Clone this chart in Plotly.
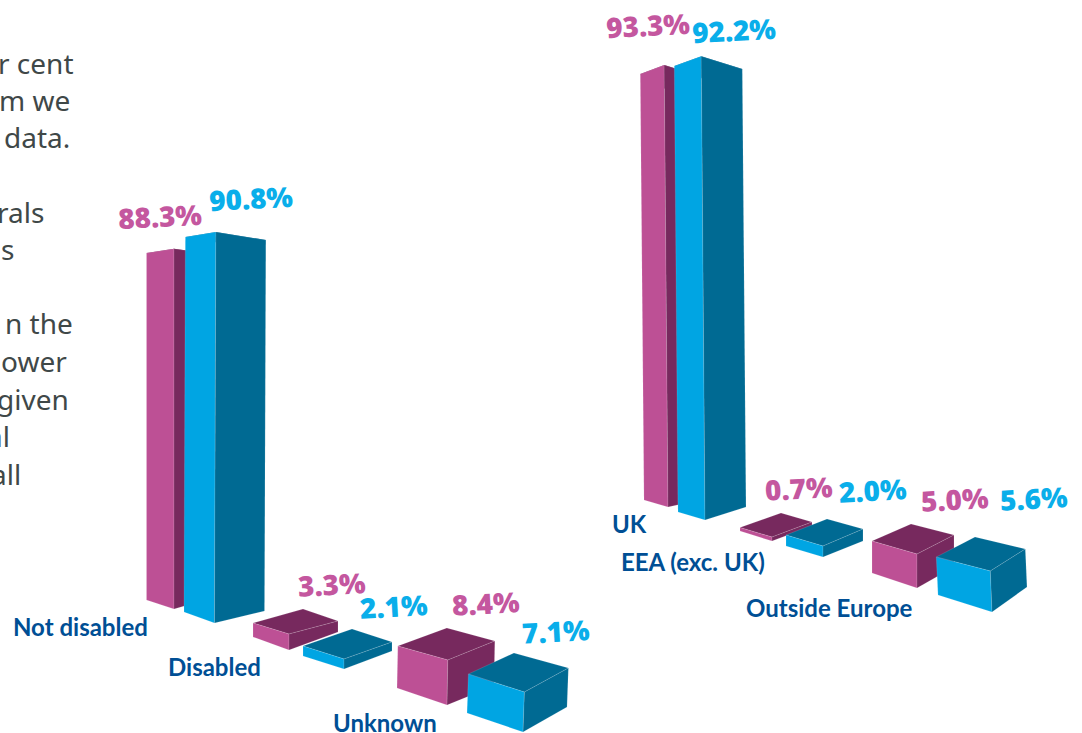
import plotly.graph_objects as go

# ---- data ----
categories = ["Not disabled", "Disabled", "Unknown", "UK", "EEA (exc. UK)", "Outside Europe"]
staff_values = [88.3, 3.3, 8.4, 93.3, 0.7, 5.0]
student_values = [90.8, 2.1, 7.1, 92.2, 2.0, 5.6]
body_fragments = ["r cent", "m we", "data.", "rals", "s", "n the", "ower", "given", "al", "all"]

# ---- colours ----
MAG, MAG_D = "#BD5095", "#77295E"
BLU, BLU_D = "#00A5E3", "#006A93"
MAG_T, BLU_T, NAVY, BODY = "#C4579F", "#0AAEEA", "#004F95", "#3F4848"

# ---- drawing geometry: ground corners (L, F, R, B), px-per-percent rise at each corner, lean per percent ----
geom_mag = [
    ((146.5, 600), (174, 609), (205, 600), (180, 590), (3.93, 4.08, 3.93, 3.7), 0.0),
    ((253, 637), (289, 650), (338, 632), (303, 621), (4.24, 4.85, 3.33, 3.6), 0.0),
    ((397, 688), (447, 705), (494, 686), (446, 670), (5.0, 5.36, 5.36, 5.0), 0.1),
    ((644, 500), (668, 507), (700, 500), (670, 490), (4.566, 4.737, 4.555, 4.29), -0.04),
    ((740, 531), (772, 541), (812, 526), (781, 516.5), (5.0, 5.7, 5.7, 5.0), 0.0),
    ((872, 573), (917, 588), (954, 567), (911, 556), (6.4, 6.8, 6.4, 6.4), 0.0),
]
geom_blu = [
    ((184, 612), (214.5, 623), (264.5, 611), (235, 600), (4.13, 4.306, 4.086, 3.9), 0.015),
    ((303, 656), (344, 669), (392, 651), (352, 638), (4.76, 4.76, 4.3, 4.3), 0.0),
    ((467, 713), (523, 732), (567, 707), (512.5, 691), (5.49, 5.63, 5.49, 5.35), 0.2),
    ((678, 512), (705, 520), (746, 507), (720, 500), (4.837, 5.03, 4.75, 4.5), -0.04),
    ((786, 546), (823, 557), (863, 541), (827, 530), (5.5, 5.5, 6.0, 5.5), 0.0),
    ((938, 595), (992, 612), (1027, 587), (976.7, 575), (6.79, 7.32, 6.79, 6.79), -0.3),
]
label_pos_mag = [(160, 216), (332, 584), (486, 603), (648, 25), (799, 488), (955, 499)]
label_pos_blu = [(251, 198), (394, 606), (556, 631), (734, 30), (873, 490), (1034, 498)]
cat_pos = [(80, 626), (214, 666), (385, 722), (629, 523), (693, 561), (829, 607)]
body_pos = [(76, 63), (72, 100), (72, 137), (46, 212), (16, 249), (75, 323), (69, 361), (71, 399), (12, 436), (23, 474)]

EDGE = dict(color="rgba(255,255,255,0.25)", width=0.5)
fig = go.Figure()


def face(pts, colour):
    xs = [p[0] for p in pts] + [pts[0][0]]
    ys = [p[1] for p in pts] + [pts[0][1]]
    fig.add_trace(go.Scatter(x=xs, y=ys, mode="lines", fill="toself", fillcolor=colour,
                             line=EDGE, hoverinfo="skip", showlegend=False))


def bar(value, g, light, dark):
    L, F, R, B, k, lean = g
    def top(p, kk):
        return (p[0] + lean * value, p[1] - kk * value)
    tL, tF, tR, tB = top(L, k[0]), top(F, k[1]), top(R, k[2]), top(B, k[3])
    face([tL, tF, tR, tB], dark)
    face([L, F, tF, tL], light)
    face([F, R, tR, tF], dark)


for i in range(len(categories)):
    bar(staff_values[i], geom_mag[i], MAG, MAG_D)
    bar(student_values[i], geom_blu[i], BLU, BLU_D)

ann = []
for vals, pos, col in ((staff_values, label_pos_mag, MAG_T), (student_values, label_pos_blu, BLU_T)):
    for v, (x, y) in zip(vals, pos):
        ann.append(dict(x=x, y=y, text=f"{v:.1f}%", showarrow=False, textangle=-3,
                        font=dict(family="Open Sans", size=28, weight=800, color=col)))
for c, (x, y) in zip(categories, cat_pos):
    ann.append(dict(x=x, y=y, text=f"<b>{c}</b>", showarrow=False,
                    font=dict(family="Lato", size=24, color=NAVY)))
for t, (x, y) in zip(body_fragments, body_pos):
    ann.append(dict(x=x, y=y, text=t, showarrow=False, xanchor="right",
                    font=dict(family="Noto Sans", size=28, color=BODY)))

fig.update_layout(
    width=1082, height=733, margin=dict(l=0, r=0, t=0, b=0),
    paper_bgcolor="white", plot_bgcolor="white", showlegend=False,
    xaxis=dict(range=[0, 1082], visible=False, fixedrange=True),
    yaxis=dict(range=[733, 0], visible=False, fixedrange=True),
    annotations=ann,
)
fig.write_html("out.html", config={"displayModeBar": False},
               post_script="document.body.style.margin='0';document.body.style.overflow='hidden';")
